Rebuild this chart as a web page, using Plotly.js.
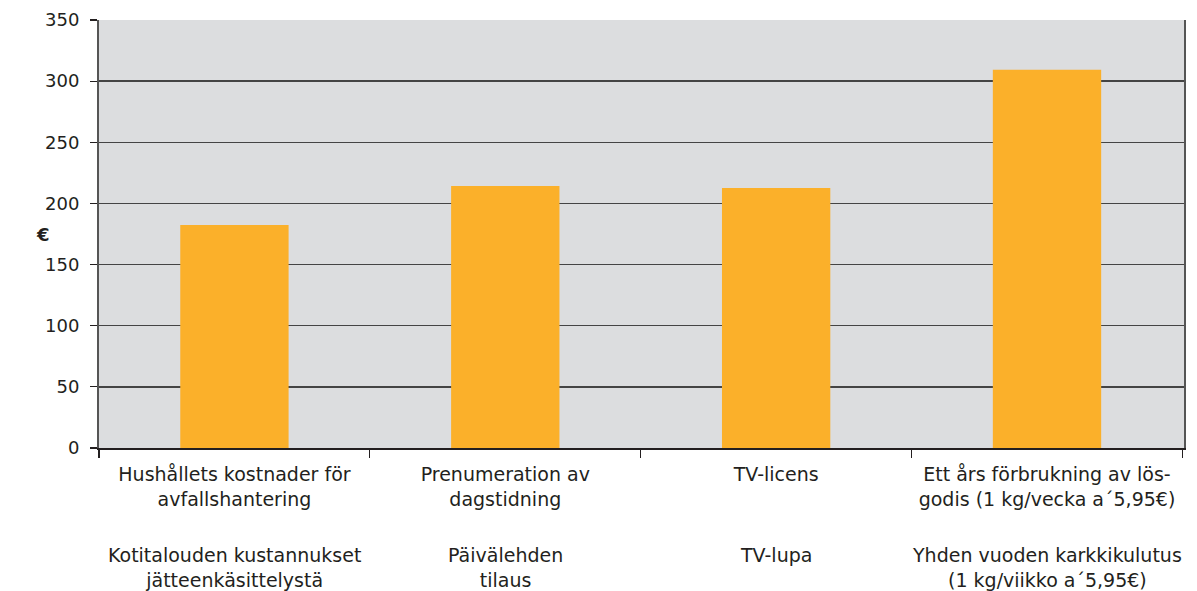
<!DOCTYPE html>
<html>
<head>
<meta charset="utf-8">
<script src="https://cdn.plot.ly/plotly-3.0.1.min.js"></script>
<style>html,body{margin:0;padding:0;background:#fff;}#chart{width:1197px;height:591px;}</style>
</head>
<body>
<div id="chart"></div>
<script>
const categoriesSv = [
  "Hushållets kostnader för<br>avfallshantering",
  "Prenumeration av<br>dagstidning",
  "TV-licens",
  "Ett års förbrukning av lös-<br>godis (1 kg/vecka a´5,95€)"
];
const categoriesFi = [
  "Kotitalouden kustannukset<br>jätteenkäsittelystä",
  "Päivälehden<br>tilaus",
  "TV-lupa",
  "Yhden vuoden karkkikulutus<br>(1 kg/viikko a´5,95€)"
];
const values = [182.4, 214.2, 212.6, 309.4];
const yTicks = [0, 50, 100, 150, 200, 250, 300, 350];
const yUnit = "€";

const FONT = 'DejaVu Sans, sans-serif';
const TXT = '#231f20';

const trace = {
  type: 'bar',
  x: categoriesSv,
  y: values,
  marker: {color: '#fbb02a', line: {width: 0}},
  hoverinfo: 'x+y'
};

const annotations = categoriesFi.map((t, i) => ({
  text: t,
  xref: 'x', yref: 'paper',
  x: i, y: -0.22,
  xanchor: 'center', yanchor: 'top',
  showarrow: false,
  align: 'center',
  font: {family: FONT, size: 19, color: TXT}
}));
annotations.push({
  text: '<b>' + yUnit + '</b>',
  xref: 'paper', yref: 'paper',
  x: -0.052, y: 0.5, xanchor: 'center', yanchor: 'middle',
  showarrow: false,
  font: {family: FONT, size: 18, color: TXT}
});

const layout = {
  width: 1197, height: 591,
  margin: {l: 99, r: 13, t: 20, b: 143},
  paper_bgcolor: '#ffffff',
  plot_bgcolor: '#dcdddf',
  bargap: 0.6,
  showlegend: false,
  font: {family: FONT, size: 18, color: TXT},
  xaxis: {
    type: 'category',
    tickson: 'boundaries',
    ticks: 'outside', ticklen: 8, tickwidth: 1.2, tickcolor: TXT,
    showline: true, linecolor: TXT, linewidth: 1.5,
    showgrid: false,
    tickangle: 0,
    ticklabelstandoff: 9,
    tickfont: {family: FONT, size: 19, color: TXT}
  },
  yaxis: {
    range: [0, 350],
    tickvals: yTicks,
    ticktext: yTicks.map(String),
    ticks: 'outside', ticklen: 7, tickwidth: 1.2, tickcolor: TXT,
    showline: true, linecolor: '#555555', linewidth: 2, mirror: true,
    showgrid: true, gridcolor: '#444444', gridwidth: 1.5,
    zeroline: false,
    ticklabelstandoff: 7,
    tickfont: {family: FONT, size: 18, color: TXT}
  },
  annotations: annotations
};

Plotly.newPlot('chart', [trace], layout, {displayModeBar: false, staticPlot: true});
</script>
</body>
</html>
